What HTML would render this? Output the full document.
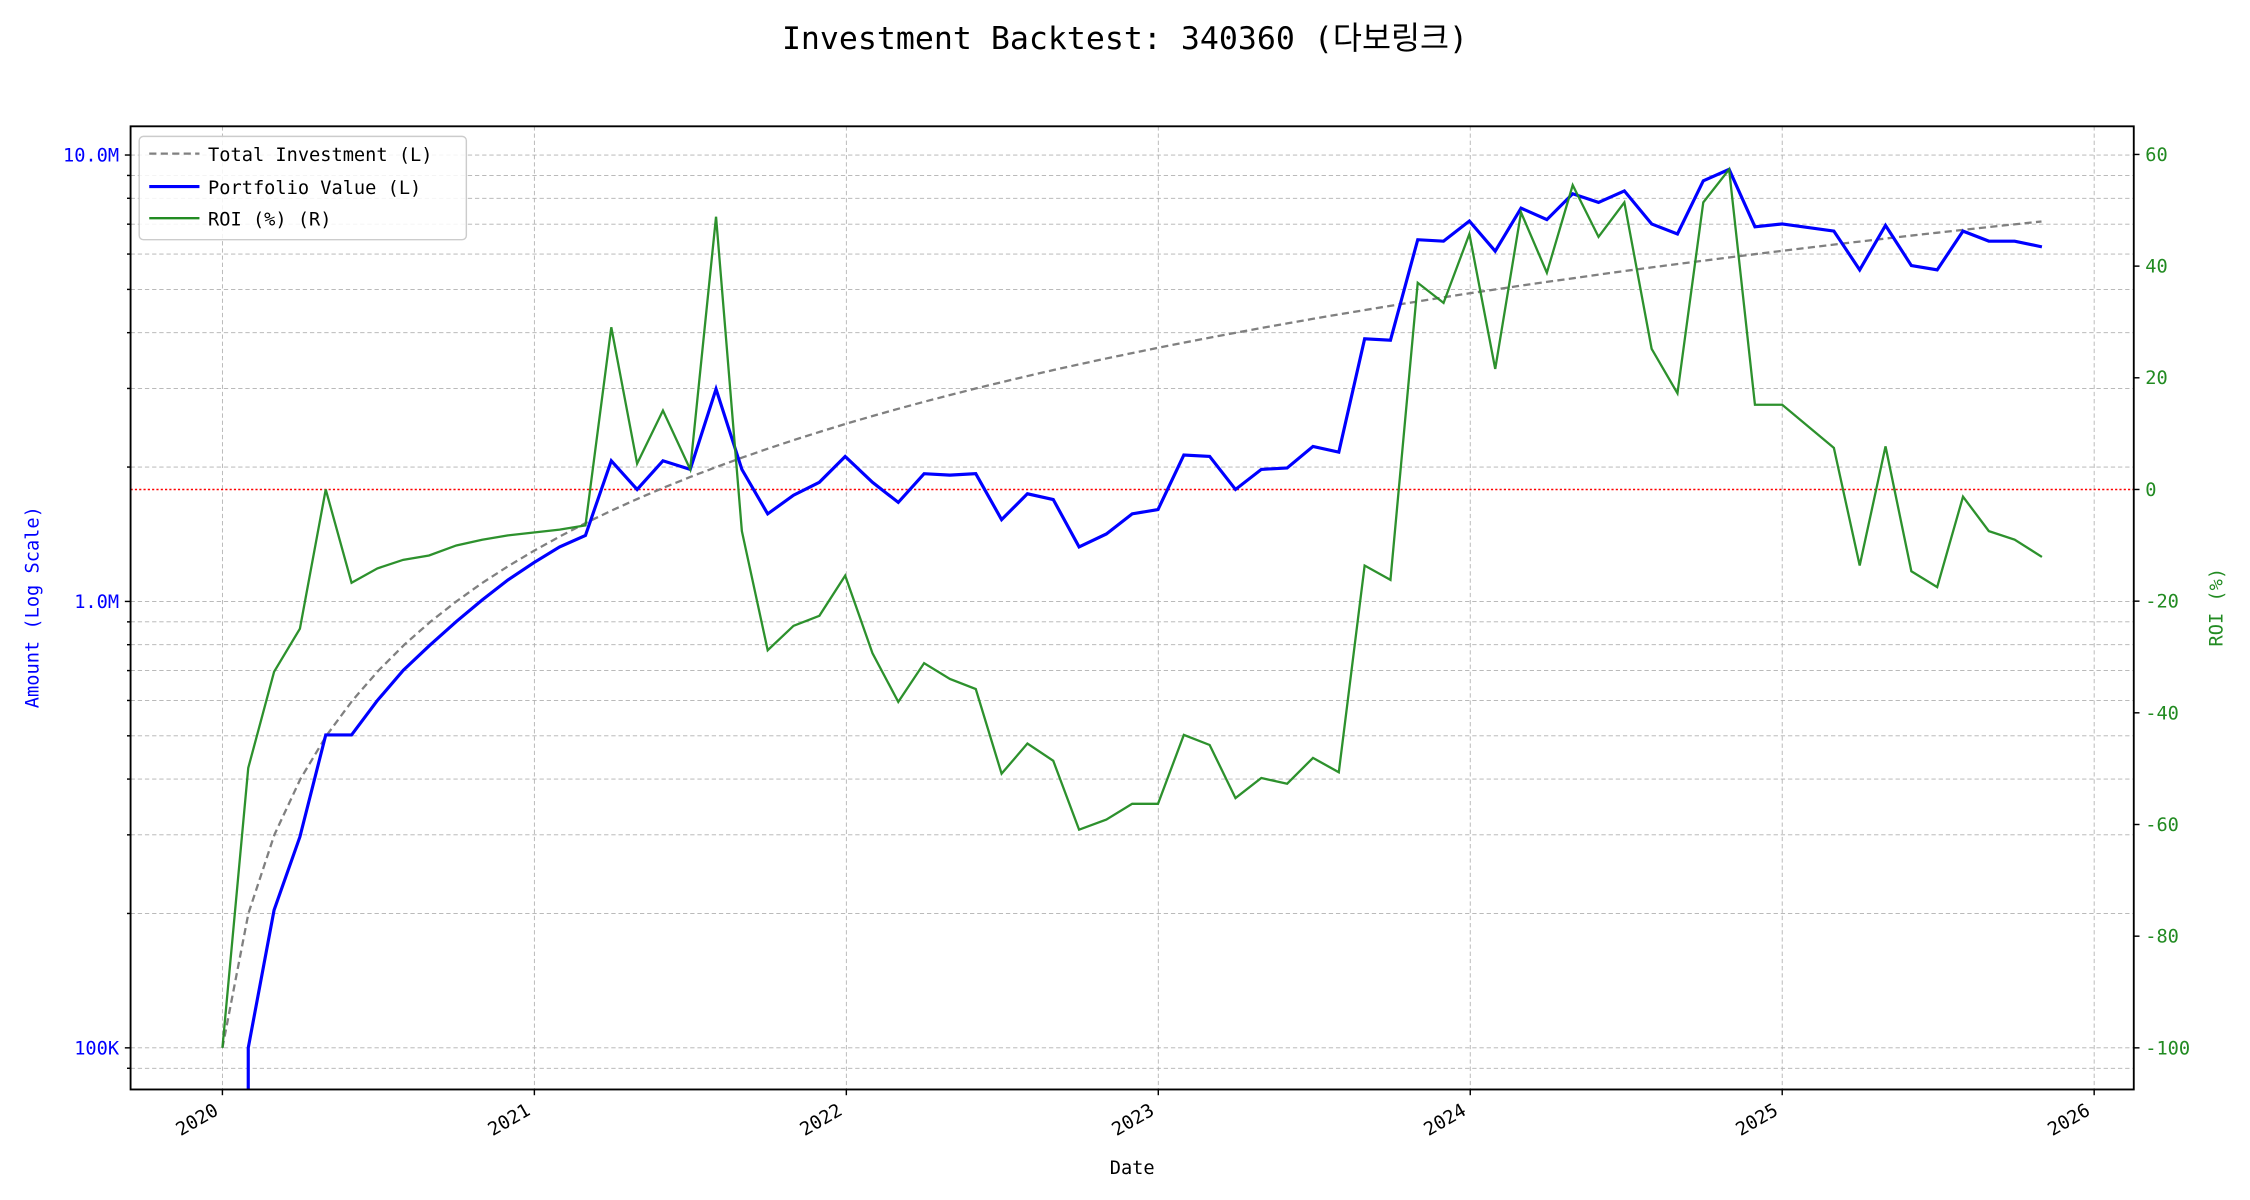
<!DOCTYPE html>
<html><head><meta charset="utf-8"><style>body{margin:0;background:#fff}svg{display:block}</style></head>
<body>
<svg id="s" width="2250" height="1200" viewBox="0 0 1568 836" preserveAspectRatio="none" xmlns="http://www.w3.org/2000/svg" font-family="'DejaVu Sans Mono','Liberation Mono','Noto Sans CJK KR',monospace">
<rect width="1568" height="836" fill="#fff"/>
<g id="grid" stroke="#b0b0b0" stroke-width="0.6" stroke-dasharray="3,2"></g>
<line x1="91" y1="341" x2="1487" y2="341" stroke="red" stroke-width="1" stroke-dasharray="1.5,1.5"/>
<path id="tot" fill="none" stroke="#808080" stroke-width="1.6" stroke-dasharray="5,3"/>
<polyline fill="none" stroke="#0000ff" stroke-width="2.2" points="173,759 173,730 191,634 209,583 227,512 245,512 263,488 281,467 299,450 318,433 336,418 354,404 372,392 390,381 408,373 426,321 444,341 462,321 481,327 499,271 517,327 535,358 553,345 571,336 589,318 608,336 626,350 644,330 662,331 680,330 698,362 716,344 734,348 752,381 771,372 789,358 807,355 825,317 843,318 861,341 879,327 897,326 915,311 933,315 951,236 969,237 988,167 1006,168 1024,154 1042,175 1060,145 1078,153 1096,135 1114,141 1132,133 1151,156 1169,163 1187,126 1205,118 1223,158 1242,156 1278,161 1296,188 1314,157 1332,185 1350,188 1368,161 1386,168 1404,168 1423,172"/>
<polyline fill="none" stroke="#228b22" stroke-opacity="0.95" stroke-width="1.6" points="155,730 173,535 191,468 209,438 227,341 245,406 263,396 281,390 299,387 318,380 336,376 354,373 372,371 390,369 408,366 426,228 444,323 462,286 481,327 499,151 517,370 535,453 553,436 571,429 589,401 608,455 626,489 644,462 662,473 680,480 698,539 716,518 734,530 752,578 771,571 789,560 807,560 825,512 843,519 861,556 879,542 897,546 915,528 933,538 951,394 969,404 988,197 1006,211 1024,163 1042,257 1060,148 1078,190 1096,129 1114,165 1132,141 1151,243 1169,274 1187,141 1205,118 1223,282 1242,282 1278,312 1296,394 1314,311 1332,398 1350,409 1368,346 1386,370 1404,376 1423,388"/>
<rect x="91" y="88" width="1396" height="671" fill="none" stroke="#000" stroke-width="1.3"/>
<g id="ticks" stroke="#000" stroke-width="1"></g>
<g id="lbl" font-size="13"></g>
<text x="784" y="34" font-size="22" text-anchor="middle">Investment Backtest: 340360 (다보링크)</text>
<text x="789" y="818" font-size="13" text-anchor="middle">Date</text>
<text transform="translate(27,423) rotate(-90)" font-size="13" fill="#0000ff" text-anchor="middle">Amount (Log Scale)</text>
<text transform="translate(1549,423) rotate(-90)" font-size="13" fill="#228b22" text-anchor="middle">ROI (%)</text>
<g>
<rect x="97" y="95" width="228" height="72" rx="3" fill="#fff" fill-opacity="0.85" stroke="#ccc"/>
<line x1="104" y1="107" x2="139" y2="107" stroke="#808080" stroke-width="1.6" stroke-dasharray="5,3"/>
<line x1="104" y1="130" x2="139" y2="130" stroke="#0000ff" stroke-width="2.2"/>
<line x1="104" y1="152" x2="139" y2="152" stroke="#228b22" stroke-width="1.6"/>
<text x="145" y="112" font-size="13">Total Investment (L)</text>
<text x="145" y="135" font-size="13">Portfolio Value (L)</text>
<text x="145" y="157" font-size="13">ROI (%) (R)</text>
</g>
<script>
var NS="http://www.w3.org/2000/svg";
function el(p,t,a,txt){var e=document.createElementNS(NS,t);for(var k in a)e.setAttribute(k,a[k]);if(txt)e.textContent=txt;document.getElementById(p).appendChild(e);}
function ly(v){return 730-311*Math.log10(v/1e5);}
var vals=[];for(var d=1e4;d<=1e7;d*=10)for(var m=1;m<10;m++)vals.push(m*d);
vals.forEach(function(v){var y=ly(v);if(y>88&&y<759){el("grid","line",{x1:91,x2:1487,y1:y,y2:y});var maj=[1e5,1e6,1e7].indexOf(v)>=0;el("ticks","line",{x1:91,x2:91-(maj?4:2.5),y1:y,y2:y});}});
[["100K",1e5],["1.0M",1e6],["10.0M",1e7]].forEach(function(a){el("lbl","text",{x:83,y:ly(a[1])+4.5,"text-anchor":"end",fill:"#0000ff"},a[0]);});
for(var i=0;i<7;i++){var x=155+217.4*i;el("grid","line",{x1:x,x2:x,y1:88,y2:759});el("ticks","line",{x1:x,x2:x,y1:759,y2:763});
el("lbl","text",{transform:"translate("+(x-2)+",776) rotate(-30)","text-anchor":"end"},String(2020+i));}
for(var r=-100;r<=60;r+=20){var y=341-3.89*r;el("ticks","line",{x1:1487,x2:1491,y1:y,y2:y});el("lbl","text",{x:1495,y:y+4.5,fill:"#228b22"},String(r));}
var p="";for(var i=0;i<=70;i++){var x=155+18.11*i;p+=(i?"L":"M")+x.toFixed(1)+","+ly(1e5*(i+1)).toFixed(1);}
document.getElementById("tot").setAttribute("d",p);
</script>
</svg>
</body></html>
